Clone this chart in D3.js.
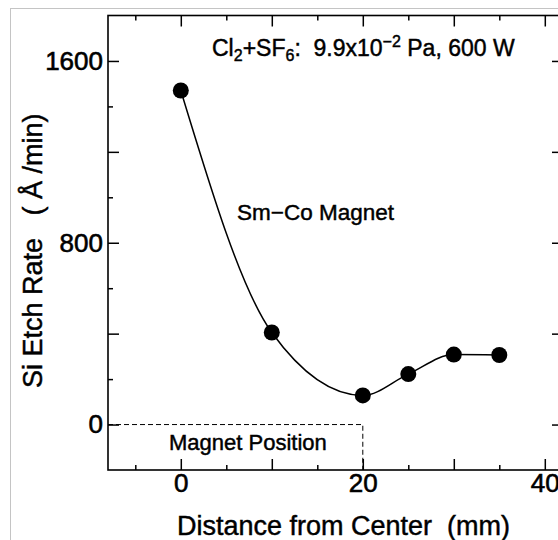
<!DOCTYPE html>
<html>
<head>
<meta charset="utf-8">
<script src="https://cdn.jsdelivr.net/npm/d3@7"></script>
<style>
  html, body { margin: 0; padding: 0; background: #fff; }
  svg { display: block; }
  text { font-family: "Liberation Sans", Arial, Helvetica, sans-serif; fill: #000; stroke: #000; stroke-width: 0.45px; white-space: pre; }
</style>
</head>
<body>
<svg id="chart" width="558" height="540"></svg>
<script>
// ---- data ----
const distance = [0, 10, 20, 25, 30, 35];           // mm
const etchRate = [1470, 405, 128, 222, 308, 306];     // Å/min
const xMajorTicks = [0, 10, 20, 30, 40];
const xMinorTicks = [-5, 5, 15, 25, 35];
const xTickLabels = [0, 20, 40];
const yMajorTicks = [0, 400, 800, 1200, 1600];
const yMinorTicks = [200, 600, 1000, 1400];
const yTickLabels = [0, 800, 1600];
const magnetEdge = 20;   // mm, extent of magnet position

(function () {
const svg = d3.select("#chart");

// outer light-gray frame
svg.append("rect")
  .attr("x", 10.5).attr("y", 8.5).attr("width", 700).attr("height", 700)
  .attr("fill", "none").attr("stroke", "#c4c4c4").attr("stroke-width", 1);

const pL = 108, pR = 563, pT = 15.5, pB = 470;
const x = d3.scaleLinear().domain([-8, 42]).range([pL, pR]);
const y = d3.scaleLinear().domain([-200, 1800]).range([pB, pT]);

const fontTick = 26;

function styleAxis(g) {
  g.select(".domain").remove();
  g.selectAll(".tick line").attr("stroke", "#000").attr("stroke-width", 1.5);
  g.selectAll(".tick text").attr("font-size", fontTick).attr("fill", "#000")
    .style("font-family", '"Liberation Sans", Arial, Helvetica, sans-serif')
    .style("stroke", "#000").style("stroke-width", "0.6px");
}

// bottom axis
svg.append("g").attr("transform", `translate(0,${pB})`)
  .call(d3.axisBottom(x).tickValues(xMajorTicks).tickSizeInner(-11).tickSizeOuter(0).tickPadding(4)
    .tickFormat(d => xTickLabels.includes(d) ? d : ""))
  .call(styleAxis);
svg.append("g").attr("transform", `translate(0,${pB})`)
  .call(d3.axisBottom(x).tickValues(xMinorTicks).tickSizeInner(-5).tickSizeOuter(0).tickFormat(""))
  .call(styleAxis);
// top axis
svg.append("g").attr("transform", `translate(0,${pT})`)
  .call(d3.axisTop(x).tickValues(xMajorTicks).tickSizeInner(-11).tickSizeOuter(0).tickFormat(""))
  .call(styleAxis);
svg.append("g").attr("transform", `translate(0,${pT})`)
  .call(d3.axisTop(x).tickValues(xMinorTicks).tickSizeInner(-5).tickSizeOuter(0).tickFormat(""))
  .call(styleAxis);
// left axis
svg.append("g").attr("transform", `translate(${pL},0)`)
  .call(d3.axisLeft(y).tickValues(yMajorTicks).tickSizeInner(-11).tickSizeOuter(0).tickPadding(5)
    .tickFormat(d => yTickLabels.includes(d) ? d : ""))
  .call(styleAxis);
svg.append("g").attr("transform", `translate(${pL},0)`)
  .call(d3.axisLeft(y).tickValues(yMinorTicks).tickSizeInner(-5).tickSizeOuter(0).tickFormat(""))
  .call(styleAxis);
// right axis
svg.append("g").attr("transform", `translate(${pR},0)`)
  .call(d3.axisRight(y).tickValues(yMajorTicks).tickSizeInner(-11).tickSizeOuter(0).tickFormat(""))
  .call(styleAxis);
svg.append("g").attr("transform", `translate(${pR},0)`)
  .call(d3.axisRight(y).tickValues(yMinorTicks).tickSizeInner(-5).tickSizeOuter(0).tickFormat(""))
  .call(styleAxis);

// plot frame
svg.append("rect")
  .attr("x", pL).attr("y", pT).attr("width", pR - pL).attr("height", pB - pT)
  .attr("fill", "none").attr("stroke", "#000").attr("stroke-width", 1.6);

// magnet position dashed outline
svg.append("path")
  .attr("d", d3.line()([[x(-8), y(0)], [x(magnetEdge), y(0)], [x(magnetEdge), y(-200)]]))
  .attr("fill", "none").attr("stroke", "#000").attr("stroke-width", 1)
  .attr("stroke-dasharray", "5,3");

// curve
const pts = distance.map((d, i) => [x(d), y(etchRate[i])]);
svg.append("path")
  .attr("d", d3.line().curve(d3.curveMonotoneX)(pts))
  .attr("fill", "none").attr("stroke", "#000").attr("stroke-width", 1.5);

// points
svg.selectAll("circle.pt").data(distance).join("circle")
  .attr("class", "pt")
  .attr("cx", d => x(d)).attr("cy", (d, i) => y(etchRate[i]))
  .attr("r", 8).attr("fill", "#000");

// annotations
const title = svg.append("text").attr("x", 212).attr("y", 56).attr("font-size", 23);
title.append("tspan").text("Cl");
title.append("tspan").attr("font-size", 16).attr("dy", 5).text("2");
title.append("tspan").attr("dy", -5).text("+SF");
title.append("tspan").attr("font-size", 16).attr("dy", 5).text("6");
title.append("tspan").attr("dy", -5).text(":  9.9x10");
title.append("tspan").attr("font-size", 16).attr("dy", -9).text("−2");
title.append("tspan").attr("dy", 9).text(" Pa, 600 W");

svg.append("text").attr("x", 237).attr("y", 220).attr("font-size", 22.5).text("Sm−Co Magnet");
svg.append("text").attr("x", 169).attr("y", 450).attr("font-size", 22).text("Magnet Position");

// axis titles
svg.append("text").attr("x", 177).attr("y", 535).attr("font-size", 27)
  .text("Distance from Center  (mm)");
svg.append("text")
  .attr("transform", "translate(42,388) rotate(-90)")
  .attr("font-size", 27)
  .text("Si Etch Rate   ( Å /min)");
})();
</script>
</body>
</html>
